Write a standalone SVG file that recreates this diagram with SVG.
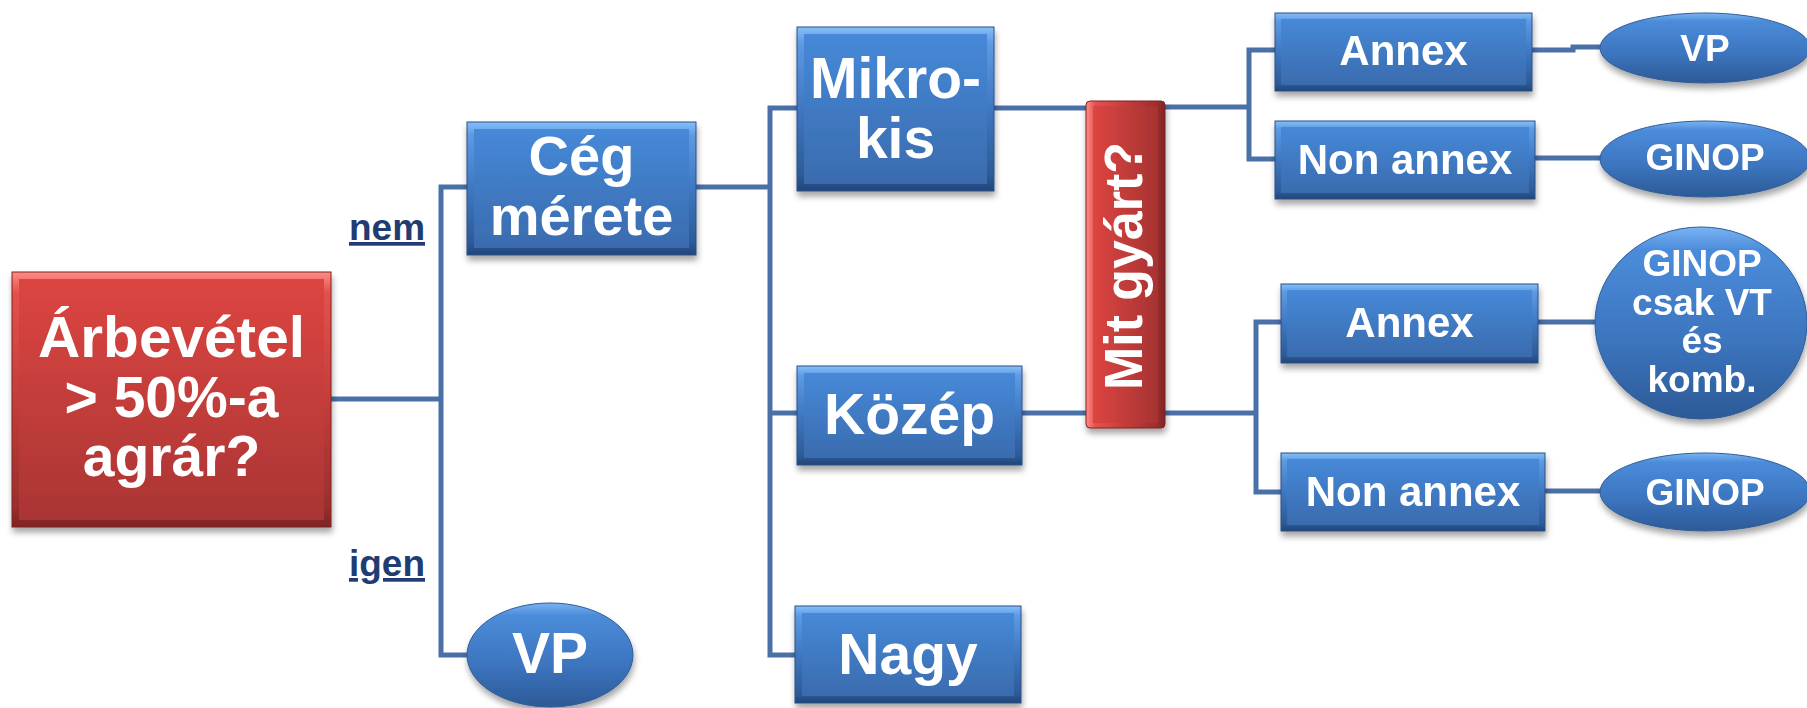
<svg xmlns="http://www.w3.org/2000/svg" width="1807" height="708" viewBox="0 0 1807 708">
<defs>
<filter id="sh" x="-10%" y="-10%" width="125%" height="130%">
<feDropShadow dx="1" dy="5" stdDeviation="3" flood-color="#000" flood-opacity="0.35"/>
</filter>
<linearGradient id="bevB" x1="0" y1="0" x2="0" y2="1">
<stop offset="0" stop-color="#86BEF8"/><stop offset="0.1" stop-color="#5C9AE2"/><stop offset="0.5" stop-color="#3F77C0"/><stop offset="0.9" stop-color="#2D5B98"/><stop offset="1" stop-color="#22467A"/>
</linearGradient>
<linearGradient id="faceB" x1="0" y1="0" x2="0" y2="1">
<stop offset="0" stop-color="#4689D8"/><stop offset="1" stop-color="#3A6BAE"/>
</linearGradient>
<linearGradient id="bevR" x1="0" y1="0" x2="0" y2="1">
<stop offset="0" stop-color="#FF8A86"/><stop offset="0.08" stop-color="#E4514C"/><stop offset="0.5" stop-color="#C43D3A"/><stop offset="0.92" stop-color="#9C2E2D"/><stop offset="1" stop-color="#7E2423"/>
</linearGradient>
<linearGradient id="faceR" x1="0" y1="0" x2="0" y2="1">
<stop offset="0" stop-color="#DC4541"/><stop offset="1" stop-color="#AA3534"/>
</linearGradient>
<linearGradient id="bevRh" x1="0" y1="0" x2="1" y2="0">
<stop offset="0" stop-color="#FF8A86"/><stop offset="0.12" stop-color="#E4514C"/><stop offset="0.5" stop-color="#C43D3A"/><stop offset="0.9" stop-color="#9C2E2D"/><stop offset="1" stop-color="#7E2423"/>
</linearGradient>
<linearGradient id="faceRh" x1="0" y1="0" x2="1" y2="0">
<stop offset="0" stop-color="#DC4541"/><stop offset="1" stop-color="#A63332"/>
</linearGradient>
<linearGradient id="ellG" x1="0" y1="0" x2="0" y2="1">
<stop offset="0" stop-color="#7AB3F3"/><stop offset="0.12" stop-color="#4B8CDA"/><stop offset="0.6" stop-color="#3C74BE"/><stop offset="1" stop-color="#2C5A96"/>
</linearGradient>
<style>
.bb{fill:url(#bevB);stroke:#2A5186;stroke-width:1}
.bf{fill:url(#faceB)}
.rb{fill:url(#bevR);stroke:#7E2423;stroke-width:1}
.rf{fill:url(#faceR)}
.el{fill:url(#ellG);stroke:#2E5D99;stroke-width:1}
.t{font-family:"Liberation Sans",Arial,sans-serif;font-weight:bold;fill:#fff;text-anchor:middle}
.lbl{font-family:"Liberation Sans",Arial,sans-serif;font-weight:bold;fill:#1F3D73;font-size:37px;text-decoration:underline}
.c{fill:none;stroke:#4A70A8;stroke-width:5;stroke-linejoin:miter}
</style>
</defs>
<rect width="1807" height="708" fill="#fff"/>

<g id="connectors" class="c">
<path class="c" d="M331,399 H441"/>
<path class="c" d="M467,187 H441 V655 H470"/>
<path class="c" d="M696,187 H770"/>
<path class="c" d="M797,108 H770 V655 H795"/>
<path class="c" d="M770,413 H797"/>
<path class="c" d="M994,108 H1086"/>
<path class="c" d="M1022,413 H1086"/>
<path class="c" d="M1165,107 H1249"/>
<path class="c" d="M1275,50 H1249 V159 H1275"/>
<path class="c" d="M1532,50 H1573 V47 H1601"/>
<path class="c" d="M1535,158 H1601"/>
<path class="c" d="M1165,413 H1256"/>
<path class="c" d="M1281,322 H1256 V492 H1281"/>
<path class="c" d="M1538,322 H1596"/>
<path class="c" d="M1545,491 H1601"/>
</g>

<g id="lbl-nem"><text class="lbl" x="349" y="240" textLength="76" lengthAdjust="spacingAndGlyphs">nem</text></g>
<g id="lbl-igen"><text class="lbl" x="349" y="576" textLength="76" lengthAdjust="spacingAndGlyphs">igen</text></g>

<g id="n-arbevetel" filter="url(#sh)">
<rect class="rb" x="12" y="272" width="319" height="255"/>
<rect class="rf" x="19" y="279" width="305" height="241"/>
<text class="t" font-size="57"><tspan x="171.5" y="357" textLength="267" lengthAdjust="spacingAndGlyphs">Árbevétel</tspan><tspan x="171.5" y="417">&gt; 50%-a</tspan><tspan x="171.5" y="476">agrár?</tspan></text>
</g>

<g id="n-ceg" filter="url(#sh)">
<rect class="bb" x="467" y="122" width="229" height="133"/>
<rect class="bf" x="474" y="129" width="215" height="119"/>
<text class="t" font-size="56"><tspan x="581.5" y="175">Cég</tspan><tspan x="581.5" y="235">mérete</tspan></text>
</g>

<g id="n-vp1" filter="url(#sh)">
<ellipse class="el" cx="550" cy="655" rx="83" ry="52"/>
<text class="t" font-size="57" x="550" y="673">VP</text>
</g>

<g id="n-mikro" filter="url(#sh)">
<rect class="bb" x="797" y="27" width="197" height="164"/>
<rect class="bf" x="804" y="34" width="183" height="150"/>
<text class="t" font-size="57"><tspan x="895.5" y="98">Mikro-</tspan><tspan x="895.5" y="158">kis</tspan></text>
</g>

<g id="n-kozep" filter="url(#sh)">
<rect class="bb" x="797" y="366" width="225" height="99"/>
<rect class="bf" x="804" y="373" width="211" height="85"/>
<text class="t" font-size="57" x="909.5" y="434">Közép</text>
</g>

<g id="n-nagy" filter="url(#sh)">
<rect class="bb" x="795" y="606" width="226" height="97"/>
<rect class="bf" x="802" y="613" width="212" height="83"/>
<text class="t" font-size="57" x="908" y="674">Nagy</text>
</g>

<g id="n-mitgyart" filter="url(#sh)">
<rect x="1086" y="101" width="79" height="327" rx="4" fill="url(#bevRh)" stroke="#7E2423" stroke-width="1"/>
<rect x="1093" y="106" width="65" height="317" fill="url(#faceRh)"/>
<text class="t" font-size="54" transform="translate(1142,266) rotate(-90)" x="0" y="0" textLength="248" lengthAdjust="spacingAndGlyphs">Mit gyárt?</text>
</g>

<g id="n-annex1" filter="url(#sh)">
<rect class="bb" x="1275" y="13" width="257" height="78"/>
<rect class="bf" x="1281" y="19" width="245" height="66"/>
<text class="t" font-size="42" x="1403.5" y="65">Annex</text>
</g>

<g id="n-nonannex1" filter="url(#sh)">
<rect class="bb" x="1275" y="121" width="260" height="78"/>
<rect class="bf" x="1281" y="127" width="248" height="66"/>
<text class="t" font-size="42" x="1405" y="174">Non annex</text>
</g>

<g id="n-vp2" filter="url(#sh)">
<ellipse class="el" cx="1705" cy="48" rx="105" ry="35"/>
<text class="t" font-size="37" x="1705" y="61">VP</text>
</g>

<g id="n-ginop1" filter="url(#sh)">
<ellipse class="el" cx="1705" cy="159" rx="105" ry="38"/>
<text class="t" font-size="37" x="1705" y="170">GINOP</text>
</g>

<g id="n-annex2" filter="url(#sh)">
<rect class="bb" x="1281" y="284" width="257" height="79"/>
<rect class="bf" x="1287" y="290" width="245" height="67"/>
<text class="t" font-size="42" x="1409.5" y="337">Annex</text>
</g>

<g id="n-nonannex2" filter="url(#sh)">
<rect class="bb" x="1281" y="453" width="264" height="78"/>
<rect class="bf" x="1287" y="459" width="252" height="66"/>
<text class="t" font-size="42" x="1413" y="506">Non annex</text>
</g>

<g id="n-ginopvt" filter="url(#sh)">
<ellipse class="el" cx="1701" cy="323" rx="106" ry="96"/>
<text class="t" font-size="37"><tspan x="1702" y="276">GINOP</tspan><tspan x="1702" y="315">csak VT</tspan><tspan x="1702" y="353">és</tspan><tspan x="1702" y="392">komb.</tspan></text>
</g>

<g id="n-ginop2" filter="url(#sh)">
<ellipse class="el" cx="1705" cy="492" rx="105" ry="39"/>
<text class="t" font-size="37" x="1705" y="505">GINOP</text>
</g>
</svg>
